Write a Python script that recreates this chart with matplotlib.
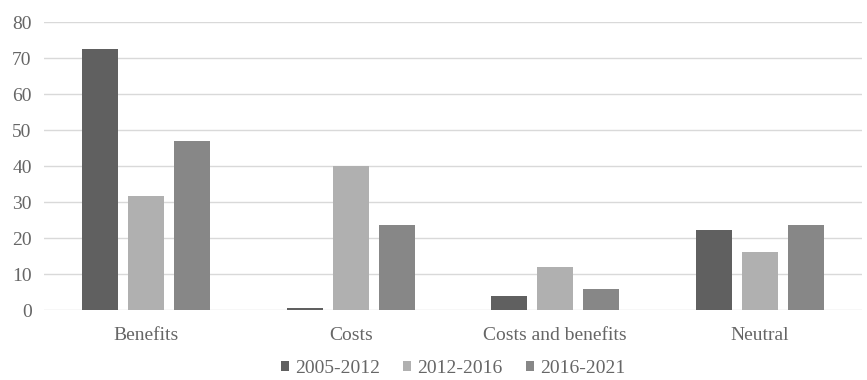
import numpy as np
import matplotlib
matplotlib.use("Agg")
import matplotlib.pyplot as plt

# data
categories = ["Benefits", "Costs", "Costs and benefits", "Neutral"]
series_names = ["2005-2012", "2012-2016", "2016-2021"]
vals_2005_2012 = [72.5, 0.7, 4.0, 22.2]
vals_2012_2016 = [31.7, 40.0, 12.0, 16.0]
vals_2016_2021 = [47.0, 23.5, 5.8, 23.5]
colors = ["#606060", "#b0b0b0", "#878787"]

plt.rcParams['font.family'] = ['Liberation Serif', 'DejaVu Serif']

fig = plt.figure(figsize=(8.67, 3.8), dpi=100)
ax = fig.add_axes([0.051, 0.184, 0.943, 0.758])

x = np.arange(len(categories))
width = 0.176
step = 0.225
for i, (vals, name) in enumerate(zip([vals_2005_2012, vals_2012_2016, vals_2016_2021], series_names)):
    ax.bar(x + (i - 1) * step, vals, width, color=colors[i], label=name, zorder=3)

ax.set_xlim(-0.5, len(categories) - 0.5)
ax.set_ylim(0, 80)
ax.set_yticks(range(0, 81, 10))
ax.set_xticks(x)
ax.set_xticklabels(categories)
ax.grid(axis='y', color='#d9d9d9', linewidth=1, zorder=0)
for s in ax.spines.values():
    s.set_visible(False)
ax.tick_params(length=0, labelsize=14, colors='#666666')
ax.tick_params(axis='y', pad=9)
ax.tick_params(axis='x', pad=12)

ax.legend(loc='upper center', bbox_to_anchor=(0.5, -0.125), ncol=3, frameon=False,
          handlelength=0.42, handleheight=0.42, handletextpad=0.3, columnspacing=1.2,
          labelcolor='#666666', fontsize=14, borderpad=0.2)

fig.savefig("out.png", dpi=100)
